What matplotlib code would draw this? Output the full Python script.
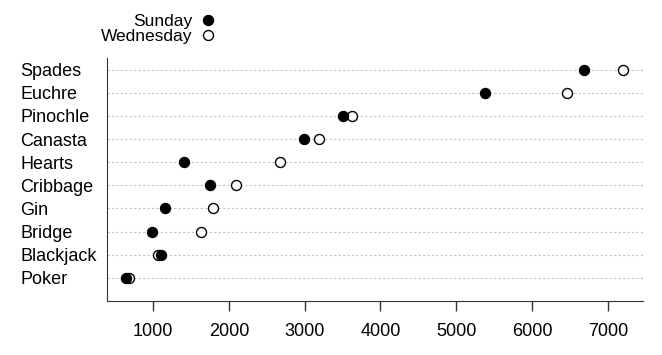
import matplotlib
matplotlib.use('Agg')
import matplotlib.pyplot as plt

plt.rcParams['font.family'] = ['Liberation Sans', 'DejaVu Sans']

# games listed bottom to top
games = ['Poker', 'Blackjack', 'Bridge', 'Gin', 'Cribbage',
         'Hearts', 'Canasta', 'Pinochle', 'Euchre', 'Spades']
sunday = [645, 1105, 990, 1160, 1750, 1410, 2990, 3510, 5380, 6680]
wednesday = [680, 1065, 1630, 1790, 2095, 2675, 3190, 3625, 6460, 7200]
xticks = [1000, 2000, 3000, 4000, 5000, 6000, 7000]

fig = plt.figure(figsize=(6.62, 3.55), dpi=100)
ax = fig.add_axes([0.1616, 0.152, 0.8097, 0.6846])

ypos = list(range(len(games)))
for y in ypos:
    ax.axhline(y, color='#c4c4c4', lw=0.8, ls=(0, (2, 2)), zorder=0)

ax.plot(wednesday, ypos, 'o', ls='none', ms=7.2, mfc='white', mec='black',
        mew=1.0, label='Wednesday', zorder=3)
ax.plot(sunday, ypos, 'o', ls='none', ms=7.2, mfc='black', mec='black',
        mew=1.0, label='Sunday', zorder=4)

ax.set_xlim(393, 7462)
ax.set_ylim(-1, 9.5)
ax.set_xticks(xticks)
ax.set_xticklabels([str(t) for t in xticks], fontsize=13)
ax.set_yticks(ypos)
ax.set_yticklabels(games, fontsize=13)
for lab in ax.get_yticklabels():
    lab.set_horizontalalignment('left')
ax.tick_params(axis='y', length=0, pad=62.5)
ax.tick_params(axis='x', length=7, width=1, color='#333333', pad=8.5)

ax.spines['top'].set_visible(False)
ax.spines['right'].set_visible(False)
ax.spines['left'].set_color('#333333')
ax.spines['bottom'].set_color('#333333')

h, l = ax.get_legend_handles_labels()
fig.legend(h[::-1], l[::-1], loc='center', bbox_to_anchor=(0.237, 0.919),
           frameon=False, markerfirst=False, fontsize=12.5,
           handlelength=0.6, handletextpad=0.6, labelspacing=0.02,
           borderpad=0, borderaxespad=0)

fig.savefig('out.png', dpi=100)
